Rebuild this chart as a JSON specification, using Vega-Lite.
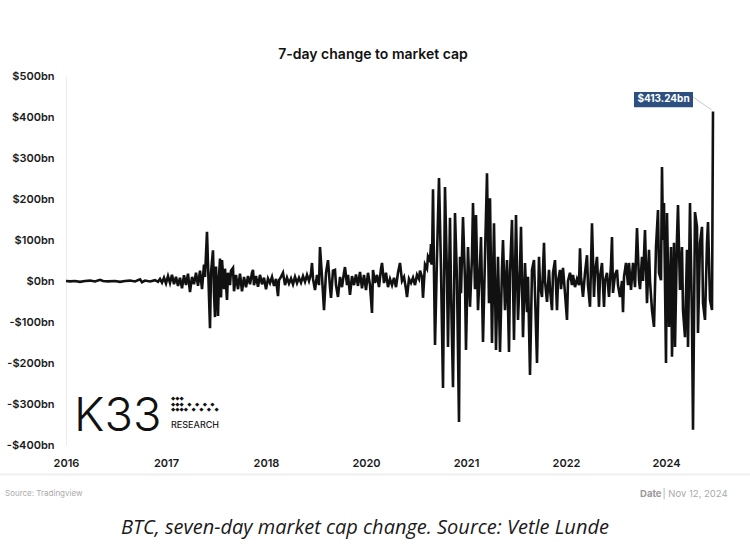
{
  "$schema": "https://vega.github.io/schema/vega-lite/v6.json",
  "width": 650,
  "height": 369,
  "autosize": {"type": "none"},
  "padding": {"left": 66, "top": 76, "right": 34, "bottom": 115},
  "background": "white",
  "config": {"view": {"stroke": null}},
  "title": {"text": "7-day change to market cap", "font": "Inter", "fontSize": 14, "fontWeight": 600, "color": "#111111", "anchor": "middle", "frame": "group", "dx": -18, "offset": 8},
  "datasets": {
    "one": [{}],
    "series": [
      {"t":0,"v":0},{"t":0.04,"v":-1},{"t":0.09,"v":0},{"t":0.14,"v":-2},{"t":0.19,"v":0},{"t":0.24,"v":1},{"t":0.29,"v":-1},{"t":0.34,"v":3},{"t":0.37,"v":0},{"t":0.42,"v":-1},{"t":0.49,"v":0},{"t":0.54,"v":-2},{"t":0.59,"v":0},{"t":0.64,"v":1},{"t":0.69,"v":-1},{"t":0.74,"v":4},{"t":0.76,"v":-3},{"t":0.79,"v":1},{"t":0.84,"v":-1},{"t":0.89,"v":2},{"t":0.92,"v":-2},
      {"t":0.94,"v":5},{"t":0.96,"v":-4},{"t":0.98,"v":8},{"t":1.00,"v":-6},{"t":1.02,"v":12},{"t":1.04,"v":-5},{"t":1.06,"v":15},{"t":1.08,"v":-8},{"t":1.10,"v":10},{"t":1.12,"v":-12},{"t":1.14,"v":8},{"t":1.16,"v":-18},{"t":1.18,"v":14},{"t":1.20,"v":-10},{"t":1.22,"v":18},{"t":1.24,"v":-27},{"t":1.26,"v":10},{"t":1.28,"v":-8},{"t":1.30,"v":20},{"t":1.32,"v":-12},{"t":1.34,"v":25},{"t":1.36,"v":-20},{"t":1.38,"v":40},{"t":1.39,"v":10},{"t":1.41,"v":120},{"t":1.42,"v":40},{"t":1.44,"v":-115},{"t":1.45,"v":20},{"t":1.47,"v":75},{"t":1.48,"v":-30},{"t":1.49,"v":-88},{"t":1.50,"v":35},{"t":1.52,"v":-85},{"t":1.53,"v":10},{"t":1.54,"v":55},{"t":1.55,"v":-40},{"t":1.56,"v":51},{"t":1.58,"v":-20},{"t":1.59,"v":30},{"t":1.61,"v":-46},{"t":1.62,"v":20},{"t":1.64,"v":-10},{"t":1.65,"v":25},{"t":1.67,"v":32},{"t":1.68,"v":-25},{"t":1.70,"v":15},{"t":1.72,"v":-20},{"t":1.74,"v":18},{"t":1.76,"v":-25},{"t":1.78,"v":10},{"t":1.80,"v":-15},{"t":1.82,"v":12},{"t":1.84,"v":-8},{"t":1.86,"v":20},{"t":1.87,"v":27},{"t":1.88,"v":-10},{"t":1.90,"v":12},{"t":1.92,"v":-14},{"t":1.94,"v":15},{"t":1.96,"v":-8},{"t":1.98,"v":8},
      {"t":2.00,"v":-20},{"t":2.02,"v":6},{"t":2.04,"v":-5},{"t":2.06,"v":10},{"t":2.08,"v":-12},{"t":2.10,"v":5},{"t":2.12,"v":-37},{"t":2.13,"v":2},{"t":2.15,"v":10},{"t":2.17,"v":20},{"t":2.19,"v":-10},{"t":2.21,"v":8},{"t":2.23,"v":-6},{"t":2.25,"v":6},{"t":2.27,"v":-8},{"t":2.29,"v":10},{"t":2.31,"v":-5},{"t":2.33,"v":8},{"t":2.35,"v":-4},{"t":2.37,"v":12},{"t":2.39,"v":-2},{"t":2.41,"v":15},{"t":2.43,"v":0},{"t":2.45,"v":18},{"t":2.46,"v":44},{"t":2.47,"v":5},{"t":2.49,"v":-22},{"t":2.51,"v":15},{"t":2.53,"v":-10},{"t":2.54,"v":83},{"t":2.56,"v":10},{"t":2.58,"v":-71},{"t":2.60,"v":20},{"t":2.62,"v":51},{"t":2.64,"v":-15},{"t":2.65,"v":-41},{"t":2.67,"v":25},{"t":2.69,"v":27},{"t":2.70,"v":-10},{"t":2.72,"v":-39},{"t":2.74,"v":10},{"t":2.76,"v":-15},{"t":2.78,"v":20},{"t":2.79,"v":34},{"t":2.81,"v":-10},{"t":2.82,"v":15},{"t":2.84,"v":-34},{"t":2.86,"v":12},{"t":2.88,"v":-10},{"t":2.90,"v":16},{"t":2.92,"v":-12},{"t":2.94,"v":22},{"t":2.96,"v":-18},{"t":2.98,"v":15},
      {"t":3.00,"v":-22},{"t":3.02,"v":20},{"t":3.04,"v":-10},{"t":3.06,"v":-78},{"t":3.07,"v":27},{"t":3.09,"v":-5},{"t":3.11,"v":15},{"t":3.13,"v":-15},{"t":3.15,"v":30},{"t":3.16,"v":44},{"t":3.18,"v":-5},{"t":3.20,"v":20},{"t":3.22,"v":-15},{"t":3.24,"v":5},{"t":3.26,"v":-10},{"t":3.28,"v":8},{"t":3.30,"v":-15},{"t":3.32,"v":20},{"t":3.34,"v":44},{"t":3.36,"v":0},{"t":3.38,"v":10},{"t":3.40,"v":-20},{"t":3.41,"v":-39},{"t":3.43,"v":5},{"t":3.45,"v":-5},{"t":3.47,"v":8},{"t":3.49,"v":-10},{"t":3.51,"v":15},{"t":3.53,"v":5},{"t":3.54,"v":25},{"t":3.56,"v":10},{"t":3.57,"v":-41},{"t":3.59,"v":40},{"t":3.61,"v":30},{"t":3.62,"v":60},{"t":3.64,"v":50},{"t":3.65,"v":90},{"t":3.66,"v":40},{"t":3.67,"v":224},{"t":3.68,"v":20},{"t":3.69,"v":-156},{"t":3.71,"v":60},{"t":3.73,"v":251},{"t":3.75,"v":30},{"t":3.77,"v":-261},{"t":3.79,"v":229},{"t":3.81,"v":10},{"t":3.82,"v":-161},{"t":3.84,"v":154},{"t":3.85,"v":-20},{"t":3.87,"v":-259},{"t":3.89,"v":166},{"t":3.91,"v":0},{"t":3.93,"v":-344},{"t":3.94,"v":59},{"t":3.95,"v":-30},{"t":3.97,"v":156},{"t":3.99,"v":0},
      {"t":4.00,"v":-168},{"t":4.02,"v":83},{"t":4.04,"v":-63},{"t":4.06,"v":60},{"t":4.07,"v":190},{"t":4.09,"v":-20},{"t":4.10,"v":161},{"t":4.12,"v":-71},{"t":4.14,"v":40},{"t":4.15,"v":107},{"t":4.17,"v":-149},{"t":4.19,"v":59},{"t":4.21,"v":263},{"t":4.23,"v":-54},{"t":4.24,"v":202},{"t":4.26,"v":-151},{"t":4.28,"v":141},{"t":4.30,"v":-168},{"t":4.32,"v":59},{"t":4.34,"v":-173},{"t":4.36,"v":30},{"t":4.37,"v":100},{"t":4.39,"v":-71},{"t":4.41,"v":51},{"t":4.43,"v":-173},{"t":4.44,"v":20},{"t":4.46,"v":149},{"t":4.48,"v":-144},{"t":4.50,"v":161},{"t":4.52,"v":-95},{"t":4.54,"v":30},{"t":4.55,"v":132},{"t":4.57,"v":-137},{"t":4.59,"v":44},{"t":4.61,"v":-76},{"t":4.62,"v":10},{"t":4.64,"v":-229},{"t":4.66,"v":27},{"t":4.68,"v":51},{"t":4.69,"v":-30},{"t":4.71,"v":-200},{"t":4.73,"v":59},{"t":4.74,"v":-10},{"t":4.76,"v":-39},{"t":4.78,"v":93},{"t":4.79,"v":0},{"t":4.81,"v":-51},{"t":4.83,"v":27},{"t":4.84,"v":-20},{"t":4.86,"v":-71},{"t":4.87,"v":20},{"t":4.89,"v":51},{"t":4.91,"v":-71},{"t":4.92,"v":0},{"t":4.94,"v":27},{"t":4.95,"v":-20},{"t":4.97,"v":32},{"t":4.99,"v":-30},
      {"t":5.01,"v":-95},{"t":5.02,"v":0},{"t":5.04,"v":20},{"t":5.06,"v":-10},{"t":5.07,"v":15},{"t":5.09,"v":-15},{"t":5.11,"v":5},{"t":5.13,"v":-10},{"t":5.14,"v":80},{"t":5.15,"v":10},{"t":5.17,"v":-39},{"t":5.19,"v":20},{"t":5.21,"v":63},{"t":5.22,"v":-10},{"t":5.24,"v":-63},{"t":5.26,"v":141},{"t":5.28,"v":-39},{"t":5.29,"v":20},{"t":5.31,"v":59},{"t":5.33,"v":-63},{"t":5.34,"v":10},{"t":5.36,"v":44},{"t":5.38,"v":-63},{"t":5.39,"v":0},{"t":5.41,"v":20},{"t":5.43,"v":-39},{"t":5.45,"v":40},{"t":5.46,"v":107},{"t":5.47,"v":-29},{"t":5.49,"v":15},{"t":5.51,"v":27},{"t":5.52,"v":-10},{"t":5.54,"v":-39},{"t":5.56,"v":0},{"t":5.57,"v":-76},{"t":5.58,"v":10},{"t":5.60,"v":44},{"t":5.62,"v":-10},{"t":5.63,"v":44},{"t":5.65,"v":-22},{"t":5.67,"v":44},{"t":5.69,"v":-15},{"t":5.71,"v":129},{"t":5.73,"v":2},{"t":5.74,"v":-20},{"t":5.76,"v":59},{"t":5.77,"v":0},{"t":5.79,"v":124},{"t":5.81,"v":-54},{"t":5.83,"v":76},{"t":5.84,"v":0},{"t":5.86,"v":-71},{"t":5.88,"v":-112},{"t":5.90,"v":83},{"t":5.92,"v":173},{"t":5.93,"v":20},{"t":5.95,"v":2},{"t":5.96,"v":278},{"t":5.97,"v":100},{"t":5.98,"v":190},
      {"t":6.00,"v":-200},{"t":6.01,"v":166},{"t":6.03,"v":-112},{"t":6.05,"v":83},{"t":6.06,"v":-185},{"t":6.08,"v":93},{"t":6.09,"v":-161},{"t":6.11,"v":105},{"t":6.12,"v":185},{"t":6.14,"v":-22},{"t":6.16,"v":83},{"t":6.17,"v":-71},{"t":6.19,"v":-137},{"t":6.21,"v":76},{"t":6.22,"v":-161},{"t":6.24,"v":190},{"t":6.26,"v":-100},{"t":6.27,"v":-363},{"t":6.29,"v":168},{"t":6.31,"v":132},{"t":6.32,"v":-127},{"t":6.34,"v":93},{"t":6.36,"v":132},{"t":6.37,"v":-54},{"t":6.39,"v":-95},{"t":6.41,"v":93},{"t":6.42,"v":144},{"t":6.44,"v":-46},{"t":6.46,"v":-71},{"t":6.47,"v":413.24}
    ]
  },
  "layer": [
    {
      "data": {"name": "series"},
      "mark": {"type": "line", "color": "#111111", "strokeWidth": 2.6, "strokeJoin": "miter"},
      "encoding": {
        "x": {"field": "t", "type": "quantitative", "scale": {"domain": [0, 6.5], "nice": false, "zero": false},
          "axis": {"title": null, "values": [0, 1, 2, 3, 4, 5, 6], "labelExpr": "['2016','2017','2018','2020','2021','2022','2024'][round(datum.value)]", "labelFlush": false, "domain": false, "ticks": false, "grid": false, "labelPadding": 12, "labelFont": "Inter", "labelFontSize": 11, "labelFontWeight": 600, "labelColor": "#1a1a1a"}},
        "y": {"field": "v", "type": "quantitative", "scale": {"domain": [-400, 500], "nice": false, "zero": false},
          "axis": {"title": null, "values": [-400, -300, -200, -100, 0, 100, 200, 300, 400, 500], "labelExpr": "datum.value < 0 ? '-$' + (-datum.value) + 'bn' : '$' + datum.value + 'bn'", "labelFlush": false, "domain": true, "domainColor": "#ececec", "ticks": false, "grid": false, "labelPadding": 12, "labelFont": "Inter", "labelFontSize": 11, "labelFontWeight": 600, "labelColor": "#1a1a1a"}}
      }
    },
    {
      "data": {"name": "one"},
      "mark": {"type": "rule", "color": "#efefef", "strokeWidth": 2},
      "encoding": {"x": {"datum": -0.66, "type": "quantitative"}, "x2": {"datum": 6.84}, "y": {"datum": -472, "type": "quantitative"}}
    },
    {
      "data": {"name": "one"},
      "mark": {"type": "rule", "color": "#c8c8c8", "strokeWidth": 1},
      "encoding": {"x": {"datum": 6.27, "type": "quantitative"}, "x2": {"datum": 6.457}, "y": {"datum": 449, "type": "quantitative"}, "y2": {"datum": 417}}
    },
    {
      "data": {"name": "one"},
      "mark": {"type": "rect", "color": "#2c4f7f"},
      "encoding": {"x": {"datum": 5.68, "type": "quantitative"}, "x2": {"datum": 6.27}, "y": {"datum": 461, "type": "quantitative"}, "y2": {"datum": 424}}
    },
    {
      "data": {"name": "one"},
      "mark": {"type": "text", "text": "$413.24bn", "color": "white", "font": "Inter", "fontSize": 10, "fontWeight": 700, "align": "center", "baseline": "middle"},
      "encoding": {"x": {"datum": 5.975, "type": "quantitative"}, "y": {"datum": 442.7, "type": "quantitative"}}
    },
    {
      "data": {"name": "one"},
      "mark": {"type": "text", "text": "K33", "color": "#111111", "font": "Inter", "fontSize": 47, "fontWeight": 300, "align": "left", "baseline": "alphabetic"},
      "encoding": {"x": {"datum": 0.08, "type": "quantitative"}, "y": {"datum": -366, "type": "quantitative"}}
    },
    {
      "data": {"name": "one"},
      "mark": {"type": "text", "text": "◆◆◆", "color": "#111111", "font": "DejaVu Sans", "fontSize": 5.5, "align": "left", "baseline": "middle"},
      "encoding": {"x": {"datum": 1.05, "type": "quantitative"}, "y": {"datum": -285, "type": "quantitative"}}
    },
    {
      "data": {"name": "one"},
      "mark": {"type": "text", "text": "◆◆◆\u00a0\u00a0◆\u00a0\u00a0◆\u00a0\u00a0◆\u00a0\u00a0◆", "color": "#111111", "font": "DejaVu Sans", "fontSize": 5.5, "align": "left", "baseline": "middle"},
      "encoding": {"x": {"datum": 1.05, "type": "quantitative"}, "y": {"datum": -299, "type": "quantitative"}}
    },
    {
      "data": {"name": "one"},
      "mark": {"type": "text", "text": "◆◆◆◆\u00a0\u00a0◆\u00a0\u00a0◆\u00a0\u00a0◆\u00a0\u00a0◆", "color": "#111111", "font": "DejaVu Sans", "fontSize": 5.5, "align": "left", "baseline": "middle"},
      "encoding": {"x": {"datum": 1.05, "type": "quantitative"}, "y": {"datum": -313, "type": "quantitative"}}
    },
    {
      "data": {"name": "one"},
      "mark": {"type": "text", "text": "RESEARCH", "color": "#222222", "font": "Inter", "fontSize": 9, "fontWeight": 500, "align": "left", "baseline": "middle"},
      "encoding": {"x": {"datum": 1.05, "type": "quantitative"}, "y": {"datum": -351, "type": "quantitative"}}
    },
    {
      "data": {"name": "one"},
      "mark": {"type": "text", "text": "Source:  Tradingview", "color": "#aaaaaa", "font": "Inter", "fontSize": 8, "align": "left", "baseline": "middle"},
      "encoding": {"x": {"datum": -0.61, "type": "quantitative"}, "y": {"datum": -519.5, "type": "quantitative"}}
    },
    {
      "data": {"name": "one"},
      "mark": {"type": "text", "text": "Date", "color": "#999999", "font": "Inter", "fontSize": 9.5, "fontWeight": 700, "align": "right", "baseline": "middle"},
      "encoding": {"x": {"datum": 5.955, "type": "quantitative"}, "y": {"datum": -519.5, "type": "quantitative"}}
    },
    {
      "data": {"name": "one"},
      "mark": {"type": "text", "text": "| Nov 12, 2024", "color": "#aaaaaa", "font": "Inter", "fontSize": 9.5, "align": "left", "baseline": "middle"},
      "encoding": {"x": {"datum": 5.965, "type": "quantitative"}, "y": {"datum": -519.5, "type": "quantitative"}}
    },
    {
      "data": {"name": "one"},
      "mark": {"type": "text", "text": "BTC, seven-day market cap change. Source: Vetle Lunde", "color": "#1a1a1a", "font": "Open Sans", "fontStyle": "italic", "fontSize": 20, "align": "center", "baseline": "middle"},
      "encoding": {"x": {"datum": 2.99, "type": "quantitative"}, "y": {"datum": -602.4, "type": "quantitative"}}
    }
  ]
}
